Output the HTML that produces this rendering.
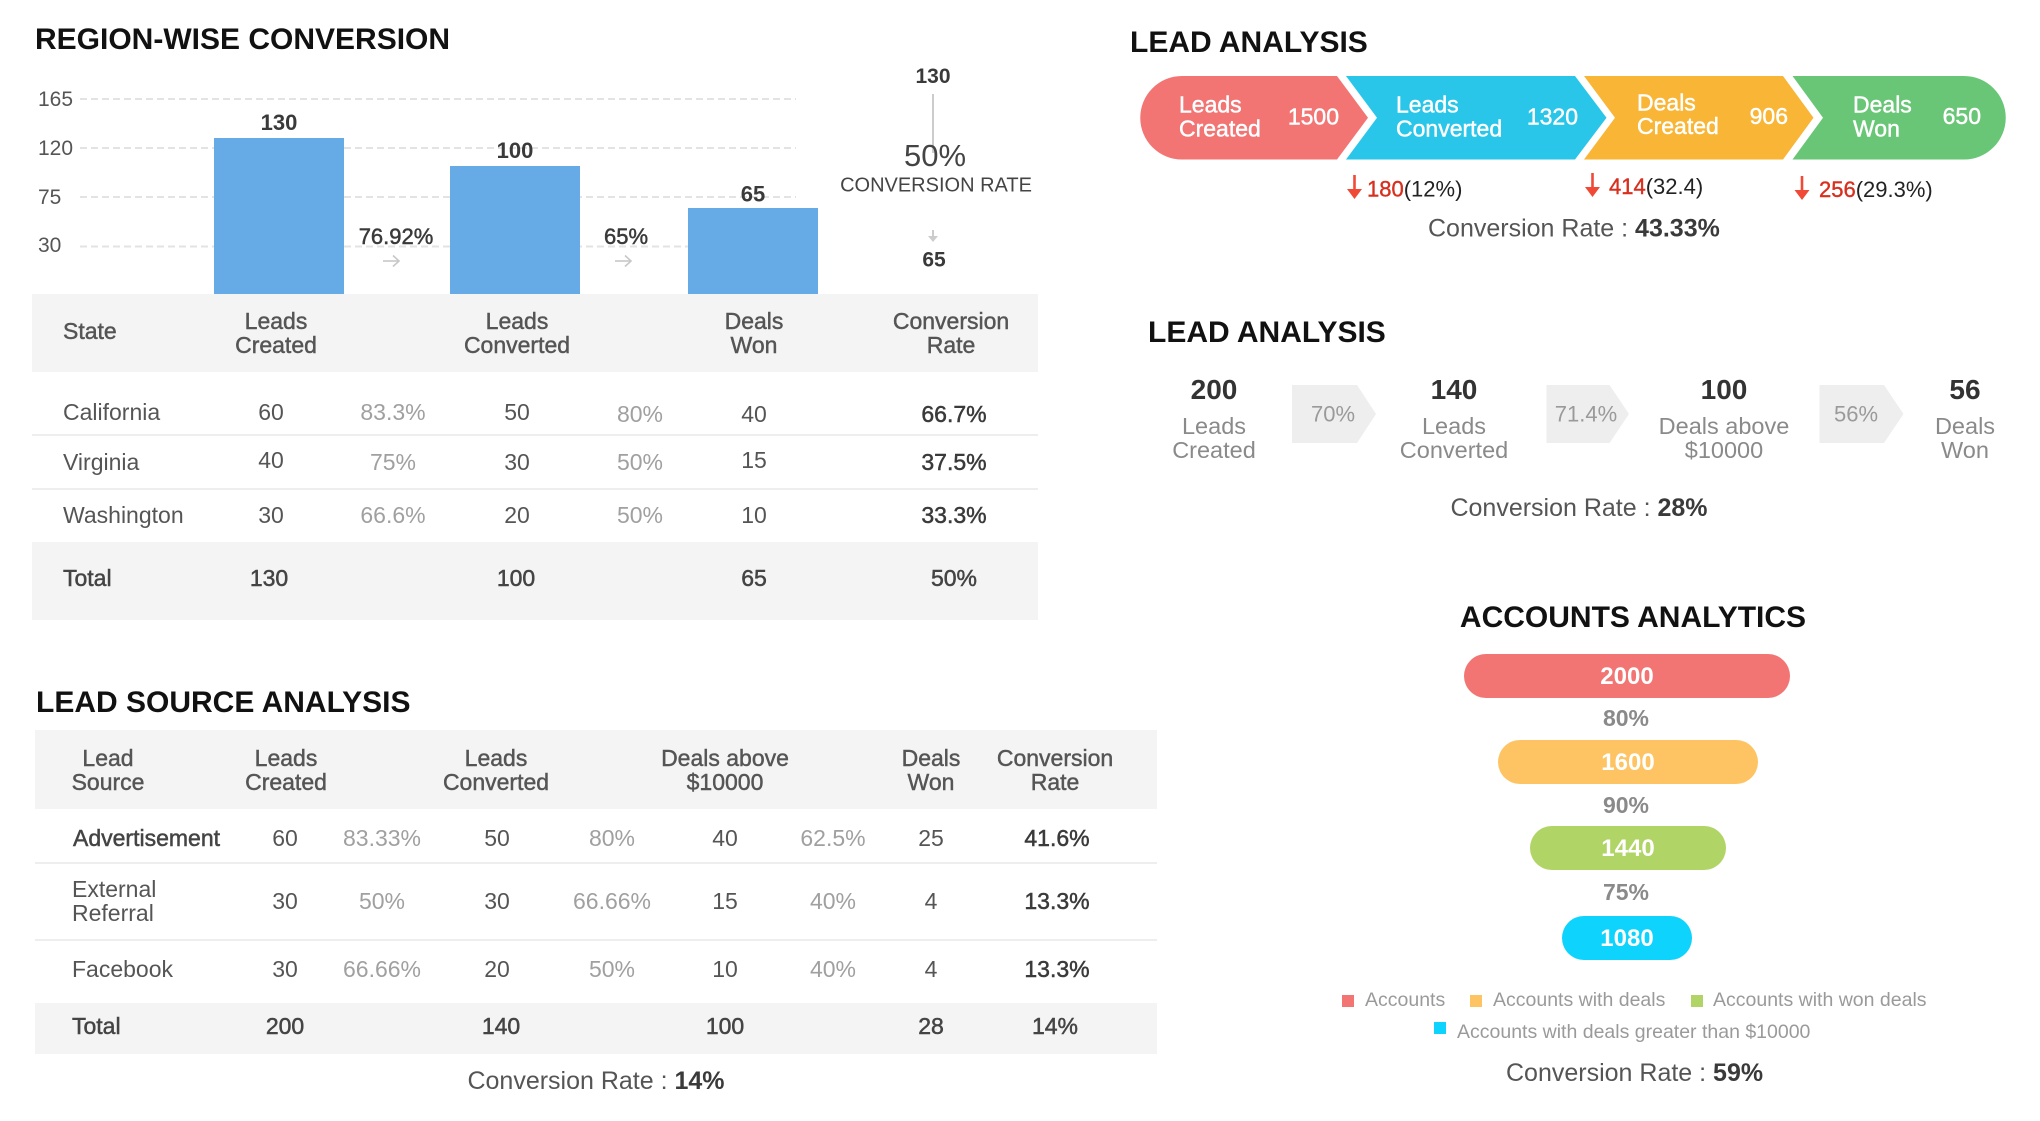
<!DOCTYPE html>
<html>
<head>
<meta charset="utf-8">
<style>
  html, body { margin:0; padding:0; background:#fff; }
  body { width:2040px; height:1116px; overflow:hidden; }
  svg text { font-family: "Liberation Sans", Arial, sans-serif; }
  .title { font-size:30px; font-weight:bold; fill:#111; }
  .ax { font-size:21px; fill:#555; }
  .lbl { font-size:22px; font-weight:bold; fill:#3a3a3a; }
  .hd { font-size:23px; fill:#555; stroke:#555; stroke-width:0.45; }
  .rw { font-size:23px; fill:#555; }
  .pc { font-size:23px; fill:#a0a0a0; }
  .rt { font-size:23px; fill:#3a3a3a; stroke:#3a3a3a; stroke-width:0.5; }
  .tot { font-size:23px; fill:#444; stroke:#444; stroke-width:0.5; }
  .wt { font-size:23px; fill:#fff; stroke:#fff; stroke-width:0.45; }
  .cr { font-size:25px; fill:#555; }
  .crb { font-weight:bold; fill:#3a3a3a; }
  .drop { font-size:22px; fill:#222; }
  .dropn { fill:#d8301f; stroke:#d8301f; stroke-width:0.4; }
  .big { font-size:28px; font-weight:bold; fill:#333; }
  .gl { font-size:23.5px; fill:#8a8a8a; }
  .chev { font-size:22px; fill:#9a9a9a; }
  .acc { font-size:24px; font-weight:bold; fill:#fff; }
  .accp { font-size:23px; font-weight:bold; fill:#8a8a8a; }
  .lg { font-size:19.5px; fill:#9a9a9a; }
</style>
</head>
<body>
<svg width="2040" height="1116" viewBox="0 0 2040 1116" xmlns="http://www.w3.org/2000/svg">

  <!-- ================= REGION-WISE CONVERSION ================= -->
  <text class="title" x="35" y="49">REGION-WISE CONVERSION</text>

  <g stroke="#e3e3e3" stroke-width="2" stroke-dasharray="7 4">
    <line x1="80" y1="99" x2="796" y2="99"/>
    <line x1="80" y1="148" x2="796" y2="148"/>
    <line x1="80" y1="197" x2="796" y2="197"/>
    <line x1="80" y1="246.5" x2="796" y2="246.5"/>
  </g>
  <text class="ax" x="38" y="106">165</text>
  <text class="ax" x="38" y="155">120</text>
  <text class="ax" x="38" y="204">75</text>
  <text class="ax" x="38" y="252">30</text>

  <rect x="214" y="138" width="130" height="156" fill="#66aae6"/>
  <rect x="450" y="166" width="130" height="128" fill="#66aae6"/>
  <rect x="688" y="208" width="130" height="86" fill="#66aae6"/>

  <text class="lbl" x="279" y="130" text-anchor="middle">130</text>
  <text class="lbl" x="515" y="158" text-anchor="middle">100</text>
  <text class="lbl" x="753" y="201.5" text-anchor="middle">65</text>

  <text class="lbl" x="396" y="244" text-anchor="middle" style="font-weight:normal;stroke:#3a3a3a;stroke-width:0.5">76.92%</text>
  <text class="lbl" x="626" y="244" text-anchor="middle" style="font-weight:normal;stroke:#3a3a3a;stroke-width:0.5">65%</text>

  <g stroke="#c8c8c8" stroke-width="1.6" fill="none">
    <line x1="383" y1="261" x2="399" y2="261"/>
    <polyline points="393,255.5 399,261 393,266.5"/>
    <line x1="615" y1="261" x2="631" y2="261"/>
    <polyline points="625,255.5 631,261 625,266.5"/>
  </g>

  <text class="lbl" x="933" y="83" text-anchor="middle" style="font-size:21px">130</text>
  <line x1="933" y1="94" x2="933" y2="153" stroke="#cccccc" stroke-width="2"/>
  <text x="935" y="166" text-anchor="middle" style="font-size:31px;fill:#444">50%</text>
  <text x="936" y="191.5" text-anchor="middle" style="font-size:20px;fill:#444">CONVERSION RATE</text>
  <line x1="933" y1="230" x2="933" y2="240" stroke="#cccccc" stroke-width="2"/>
  <polygon points="928,236 938,236 933,242" fill="#cccccc"/>
  <text class="lbl" x="934" y="266.5" text-anchor="middle" style="font-size:21px">65</text>

  <rect x="32" y="294" width="1006" height="78" fill="#f4f4f4"/>
  <text class="hd" x="63" y="339">State</text>
  <text class="hd" x="276" y="329" text-anchor="middle">Leads</text>
  <text class="hd" x="276" y="353" text-anchor="middle">Created</text>
  <text class="hd" x="517" y="329" text-anchor="middle">Leads</text>
  <text class="hd" x="517" y="353" text-anchor="middle">Converted</text>
  <text class="hd" x="754" y="329" text-anchor="middle">Deals</text>
  <text class="hd" x="754" y="353" text-anchor="middle">Won</text>
  <text class="hd" x="951" y="329" text-anchor="middle">Conversion</text>
  <text class="hd" x="951" y="353" text-anchor="middle">Rate</text>

  <line x1="32" y1="435" x2="1038" y2="435" stroke="#eeeeee" stroke-width="2"/>
  <line x1="32" y1="489" x2="1038" y2="489" stroke="#eeeeee" stroke-width="2"/>

  <text class="rw" x="63" y="420">California</text>
  <text class="rw" x="271" y="420" text-anchor="middle">60</text>
  <text class="pc" x="393" y="420" text-anchor="middle">83.3%</text>
  <text class="rw" x="517" y="420" text-anchor="middle">50</text>
  <text class="pc" x="640" y="422" text-anchor="middle">80%</text>
  <text class="rw" x="754" y="422" text-anchor="middle">40</text>
  <text class="rt" x="954" y="422" text-anchor="middle">66.7%</text>

  <text class="rw" x="63" y="470">Virginia</text>
  <text class="rw" x="271" y="468" text-anchor="middle">40</text>
  <text class="pc" x="393" y="470" text-anchor="middle">75%</text>
  <text class="rw" x="517" y="470" text-anchor="middle">30</text>
  <text class="pc" x="640" y="470" text-anchor="middle">50%</text>
  <text class="rw" x="754" y="468" text-anchor="middle">15</text>
  <text class="rt" x="954" y="470" text-anchor="middle">37.5%</text>

  <text class="rw" x="63" y="523">Washington</text>
  <text class="rw" x="271" y="523" text-anchor="middle">30</text>
  <text class="pc" x="393" y="523" text-anchor="middle">66.6%</text>
  <text class="rw" x="517" y="523" text-anchor="middle">20</text>
  <text class="pc" x="640" y="523" text-anchor="middle">50%</text>
  <text class="rw" x="754" y="523" text-anchor="middle">10</text>
  <text class="rt" x="954" y="523" text-anchor="middle">33.3%</text>

  <rect x="32" y="542" width="1006" height="78" fill="#f4f4f4"/>
  <text class="tot" x="63" y="586">Total</text>
  <text class="tot" x="269" y="586" text-anchor="middle">130</text>
  <text class="tot" x="516" y="586" text-anchor="middle">100</text>
  <text class="tot" x="754" y="586" text-anchor="middle">65</text>
  <text class="tot" x="954" y="586" text-anchor="middle">50%</text>

  <!-- ================= LEAD SOURCE ANALYSIS ================= -->
  <text class="title" x="36" y="712">LEAD SOURCE ANALYSIS</text>
  <rect x="35" y="730" width="1122" height="79" fill="#f4f4f4"/>
  <text class="hd" x="108" y="766" text-anchor="middle">Lead</text>
  <text class="hd" x="108" y="790" text-anchor="middle">Source</text>
  <text class="hd" x="286" y="766" text-anchor="middle">Leads</text>
  <text class="hd" x="286" y="790" text-anchor="middle">Created</text>
  <text class="hd" x="496" y="766" text-anchor="middle">Leads</text>
  <text class="hd" x="496" y="790" text-anchor="middle">Converted</text>
  <text class="hd" x="725" y="766" text-anchor="middle">Deals above</text>
  <text class="hd" x="725" y="790" text-anchor="middle">$10000</text>
  <text class="hd" x="931" y="766" text-anchor="middle">Deals</text>
  <text class="hd" x="931" y="790" text-anchor="middle">Won</text>
  <text class="hd" x="1055" y="766" text-anchor="middle">Conversion</text>
  <text class="hd" x="1055" y="790" text-anchor="middle">Rate</text>

  <line x1="35" y1="863" x2="1157" y2="863" stroke="#eeeeee" stroke-width="2"/>
  <line x1="35" y1="940" x2="1157" y2="940" stroke="#eeeeee" stroke-width="2"/>

  <text class="rt" x="73" y="846" style="fill:#444;stroke:#444">Advertisement</text>
  <text class="rw" x="285" y="846" text-anchor="middle">60</text>
  <text class="pc" x="382" y="846" text-anchor="middle">83.33%</text>
  <text class="rw" x="497" y="846" text-anchor="middle">50</text>
  <text class="pc" x="612" y="846" text-anchor="middle">80%</text>
  <text class="rw" x="725" y="846" text-anchor="middle">40</text>
  <text class="pc" x="833" y="846" text-anchor="middle">62.5%</text>
  <text class="rw" x="931" y="846" text-anchor="middle">25</text>
  <text class="rt" x="1057" y="846" text-anchor="middle">41.6%</text>

  <text class="rw" x="72" y="897">External</text>
  <text class="rw" x="72" y="921">Referral</text>
  <text class="rw" x="285" y="909" text-anchor="middle">30</text>
  <text class="pc" x="382" y="909" text-anchor="middle">50%</text>
  <text class="rw" x="497" y="909" text-anchor="middle">30</text>
  <text class="pc" x="612" y="909" text-anchor="middle">66.66%</text>
  <text class="rw" x="725" y="909" text-anchor="middle">15</text>
  <text class="pc" x="833" y="909" text-anchor="middle">40%</text>
  <text class="rw" x="931" y="909" text-anchor="middle">4</text>
  <text class="rt" x="1057" y="909" text-anchor="middle">13.3%</text>

  <text class="rw" x="72" y="977">Facebook</text>
  <text class="rw" x="285" y="977" text-anchor="middle">30</text>
  <text class="pc" x="382" y="977" text-anchor="middle">66.66%</text>
  <text class="rw" x="497" y="977" text-anchor="middle">20</text>
  <text class="pc" x="612" y="977" text-anchor="middle">50%</text>
  <text class="rw" x="725" y="977" text-anchor="middle">10</text>
  <text class="pc" x="833" y="977" text-anchor="middle">40%</text>
  <text class="rw" x="931" y="977" text-anchor="middle">4</text>
  <text class="rt" x="1057" y="977" text-anchor="middle">13.3%</text>

  <rect x="35" y="1003" width="1122" height="51" fill="#f4f4f4"/>
  <text class="tot" x="72" y="1034">Total</text>
  <text class="tot" x="285" y="1034" text-anchor="middle">200</text>
  <text class="tot" x="501" y="1034" text-anchor="middle">140</text>
  <text class="tot" x="725" y="1034" text-anchor="middle">100</text>
  <text class="tot" x="931" y="1034" text-anchor="middle">28</text>
  <text class="tot" x="1055" y="1034" text-anchor="middle">14%</text>

  <text class="cr" x="596" y="1089" text-anchor="middle">Conversion Rate : <tspan class="crb">14%</tspan></text>

  <!-- ================= LEAD ANALYSIS (chevron funnel) ================= -->
  <text class="title" x="1130" y="52">LEAD ANALYSIS</text>

  <path d="M1182,76 L1337,76 L1368,117.75 L1337,159.5 L1182,159.5 A41.75,41.75 0 0 1 1182,76 Z" fill="#f27574"/>
  <path d="M1346,76 L1575,76 L1606.5,117.75 L1575,159.5 L1346,159.5 L1377,117.75 Z" fill="#29c6e9"/>
  <path d="M1584,76 L1783,76 L1813.5,117.75 L1783,159.5 L1584,159.5 L1615,117.75 Z" fill="#f8b536"/>
  <path d="M1792.5,76 L1964,76 A41.75,41.75 0 0 1 1964,159.5 L1792.5,159.5 L1823,117.75 Z" fill="#6ac677"/>

  <text class="wt" x="1179" y="112.5">Leads</text>
  <text class="wt" x="1179" y="136.5">Created</text>
  <text class="wt" x="1339" y="124.5" text-anchor="end">1500</text>

  <text class="wt" x="1396" y="112.5">Leads</text>
  <text class="wt" x="1396" y="136.5">Converted</text>
  <text class="wt" x="1578" y="124.5" text-anchor="end">1320</text>

  <text class="wt" x="1637" y="110.5">Deals</text>
  <text class="wt" x="1637" y="134">Created</text>
  <text class="wt" x="1788" y="124" text-anchor="end">906</text>

  <text class="wt" x="1853" y="112.5">Deals</text>
  <text class="wt" x="1853" y="136.5">Won</text>
  <text class="wt" x="1981" y="124" text-anchor="end">650</text>

  <g fill="#f04a37" stroke="#f04a37">
    <line x1="1354.5" y1="175" x2="1354.5" y2="193" stroke-width="2.6"/>
    <polygon points="1347,189 1362,189 1354.5,199" stroke="none"/>
    <line x1="1592.5" y1="173" x2="1592.5" y2="191" stroke-width="2.6"/>
    <polygon points="1585,187 1600,187 1592.5,197" stroke="none"/>
    <line x1="1802" y1="176" x2="1802" y2="194" stroke-width="2.6"/>
    <polygon points="1794.5,190 1809.5,190 1802,200" stroke="none"/>
  </g>
  <text class="drop" x="1367" y="196.5"><tspan class="dropn">180</tspan>(12%)</text>
  <text class="drop" x="1609" y="194"><tspan class="dropn">414</tspan>(32.4)</text>
  <text class="drop" x="1819" y="197"><tspan class="dropn">256</tspan>(29.3%)</text>

  <text class="cr" x="1428" y="236.5">Conversion Rate : <tspan class="crb">43.33%</tspan></text>

  <!-- ================= LEAD ANALYSIS (steps) ================= -->
  <text class="title" x="1148" y="342">LEAD ANALYSIS</text>

  <text class="big" x="1214" y="399" text-anchor="middle">200</text>
  <text class="gl" x="1214" y="434" text-anchor="middle">Leads</text>
  <text class="gl" x="1214" y="458" text-anchor="middle">Created</text>

  <polygon points="1292,385 1357,385 1376,414 1357,443 1292,443" fill="#eeeeee"/>
  <text class="chev" x="1333" y="421.5" text-anchor="middle">70%</text>

  <text class="big" x="1454" y="399" text-anchor="middle">140</text>
  <text class="gl" x="1454" y="434" text-anchor="middle">Leads</text>
  <text class="gl" x="1454" y="458" text-anchor="middle">Converted</text>

  <polygon points="1546.5,385 1609.5,385 1629,414 1609.5,443 1546.5,443" fill="#eeeeee"/>
  <text class="chev" x="1586" y="421.5" text-anchor="middle">71.4%</text>

  <text class="big" x="1724" y="399" text-anchor="middle">100</text>
  <text class="gl" x="1724" y="434" text-anchor="middle">Deals above</text>
  <text class="gl" x="1724" y="458" text-anchor="middle">$10000</text>

  <polygon points="1819.5,385 1884,385 1903.5,414 1884,443 1819.5,443" fill="#eeeeee"/>
  <text class="chev" x="1856" y="421.5" text-anchor="middle">56%</text>

  <text class="big" x="1965" y="399" text-anchor="middle">56</text>
  <text class="gl" x="1965" y="434" text-anchor="middle">Deals</text>
  <text class="gl" x="1965" y="458" text-anchor="middle">Won</text>

  <text class="cr" x="1579" y="516" text-anchor="middle">Conversion Rate : <tspan class="crb">28%</tspan></text>

  <!-- ================= ACCOUNTS ANALYTICS ================= -->
  <text class="title" x="1633" y="627" text-anchor="middle">ACCOUNTS ANALYTICS</text>

  <rect x="1464" y="654" width="326" height="44" rx="22" ry="22" fill="#f27574"/>
  <text class="acc" x="1627" y="684" text-anchor="middle">2000</text>
  <text class="accp" x="1626" y="726" text-anchor="middle">80%</text>

  <rect x="1498" y="740" width="260" height="44" rx="22" ry="22" fill="#fec463"/>
  <text class="acc" x="1628" y="770" text-anchor="middle">1600</text>
  <text class="accp" x="1626" y="813" text-anchor="middle">90%</text>

  <rect x="1530" y="826" width="196" height="44" rx="22" ry="22" fill="#b0d465"/>
  <text class="acc" x="1628" y="856" text-anchor="middle">1440</text>
  <text class="accp" x="1626" y="900" text-anchor="middle">75%</text>

  <rect x="1562" y="916" width="130" height="44" rx="22" ry="22" fill="#0dd3fd"/>
  <text class="acc" x="1627" y="946" text-anchor="middle">1080</text>

  <rect x="1342" y="995" width="12" height="12" fill="#f27574"/>
  <text class="lg" x="1365" y="1006">Accounts</text>
  <rect x="1470" y="995" width="12" height="12" fill="#fec463"/>
  <text class="lg" x="1493" y="1006">Accounts with deals</text>
  <rect x="1691" y="995" width="12" height="12" fill="#b0d465"/>
  <text class="lg" x="1713" y="1006">Accounts with won deals</text>
  <rect x="1434" y="1022" width="12" height="12" fill="#0dd3fd"/>
  <text class="lg" x="1457" y="1038">Accounts with deals greater than $10000</text>

  <text class="cr" x="1506" y="1081">Conversion Rate : <tspan class="crb">59%</tspan></text>
</svg>
</body>
</html>
